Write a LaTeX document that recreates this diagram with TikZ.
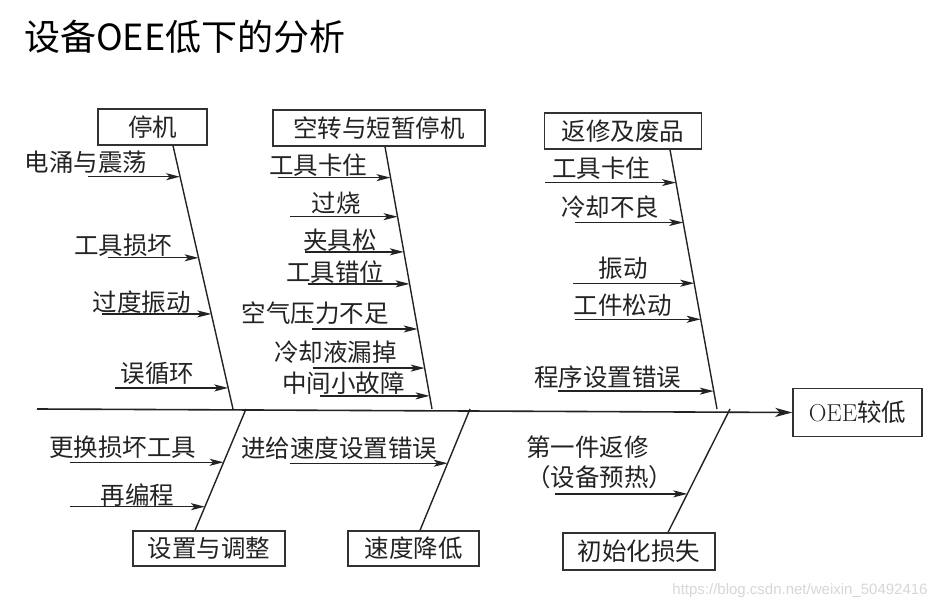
\documentclass[tikz,border=0pt]{standalone}
\usepackage{fontspec}
\usepackage{xcolor}
\usepackage{tikz}
\usetikzlibrary{arrows.meta,calc}
\newfontfamily\cjk{Noto Sans CJK SC}
\newfontfamily\wmfont{Liberation Sans}
\definecolor{inkc}{RGB}{35,35,35}
\definecolor{boxc}{RGB}{50,50,50}
\definecolor{wmc}{RGB}{215,215,215}
\tikzset{
  cat/.style    = {draw=boxc, line width=1.3pt, minimum height=36pt, inner sep=0pt,
                   font=\cjk\fontsize{24.5}{27}\selectfont, text=inkc},
  cause/.style  = {font=\cjk\fontsize{24.5}{30}\selectfont, text=inkc, inner sep=0pt, align=left},
  bone/.style   = {draw=inkc, line width=1.4pt},
  sub/.style    = {-{Stealth[length=14pt,width=7pt,inset=3.5pt]}, draw=inkc, line width=1.3pt},
  spine/.style  = {-{Stealth[length=17pt,width=9pt,inset=4.5pt]}, draw=inkc, line width=1.6pt},
}

\begin{document}
\begin{tikzpicture}[x=1pt,y=-1pt]
\useasboundingbox[fill=white] (0,0) rectangle (945,609);

\node[font=\cjk\fontsize{36}{40}\selectfont, text=black, anchor=west, inner sep=0pt] (title)
  at (24,37) {设备OEE低下的分析};

% spine and effect
\node[cat, minimum width=129pt, minimum height=48pt] (oee) at (857.5,412.5) {{\rmfamily OEE}较低};
\coordinate (tail) at (37,409);
\draw[spine] (tail) -- (oee.west);
\coordinate (j1) at (233,409);
\coordinate (j2) at (432,409);
\coordinate (j3) at (717,409);
\coordinate (k1) at (246,409);
\coordinate (k2) at (470,409);
\coordinate (k3) at (730,409);

% top categories
\node[cat, minimum width=109pt] (stop) at (152.5,127) {停机};
\node[cat, minimum width=212pt] (idle) at (379,128) {空转与短暂停机};
\node[cat, minimum width=157pt] (scrap) at (623,131) {返修及废品};

% bottom categories
\node[cat, minimum width=152pt, minimum height=35pt] (setup) at (209,548.5) {设置与调整};
\node[cat, minimum width=131pt, minimum height=35pt] (speed) at (413.5,548.5) {速度降低};
\node[cat, minimum width=152pt, minimum height=37pt] (start) at (639,551.5) {初始化损失};

% bones
\draw[bone] ([xshift=20.5]stop.south) -- (j1)
  coordinate[pos=.118] (t1a) coordinate[pos=.426] (t1b)
  coordinate[pos=.639] (t1c) coordinate[pos=.920] (t1d);
\draw[bone] ([xshift=6]idle.south) -- (j2)
  coordinate[pos=.118] (t2a) coordinate[pos=.267] (t2b) coordinate[pos=.401] (t2c)
  coordinate[pos=.523] (t2d) coordinate[pos=.695] (t2e) coordinate[pos=.844] (t2f)
  coordinate[pos=.950] (t2g);
\draw[bone] ([xshift=47]scrap.south) -- (j3)
  coordinate[pos=.127] (t3a) coordinate[pos=.281] (t3b) coordinate[pos=.515] (t3c)
  coordinate[pos=.654] (t3d) coordinate[pos=.931] (t3e);
\draw[bone] (k1) -- ([xshift=-14]setup.north)
  coordinate[pos=.439] (b1a) coordinate[pos=.805] (b1b);
\draw[bone] (k2) -- ([xshift=6.5]speed.north)
  coordinate[pos=.447] (b2a);
\draw[bone] (k3) -- ([xshift=29]start.north)
  coordinate[pos=.688] (b3a);

% causes: 停机
\node[cause] (surge) at (86,162) {电涌与震荡};
\draw[sub] ([xshift=-92]t1a) -- (t1a);
\node[cause] (tbrk) at (123,245) {工具损坏};
\draw[sub] ([xshift=-91]t1b) -- (t1b);
\node[cause] (vib1) at (141.5,302) {过度振动};
\draw[sub] ([xshift=-109]t1c) -- (t1c);
\node[cause] (loop) at (157.5,373) {误循环};
\draw[sub] ([xshift=-113]t1d) -- (t1d);

% causes: 空转与短暂停机
\node[cause] (jam2) at (318,165) {工具卡住};
\draw[sub] ([xshift=-113]t2a) -- (t2a);
\node[cause] (burn) at (336,203) {过烧};
\draw[sub] ([xshift=-108]t2b) -- (t2b);
\node[cause] (clamp) at (340,240) {夹具松};
\draw[sub] ([xshift=-99]t2c) -- (t2c);
\node[cause] (misal) at (335,272) {工具错位};
\draw[sub] ([xshift=-102]t2d) -- (t2d);
\node[cause] (air) at (315,313) {空气压力不足};
\draw[sub] ([xshift=-106]t2e) -- (t2e);
\node[cause] (leak) at (335.5,352) {冷却液漏掉};
\draw[sub] ([xshift=-112]t2f) -- (t2f);
\node[cause] (minor) at (343.5,383) {中间小故障};
\draw[sub] ([xshift=-110]t2g) -- (t2g);

% causes: 返修及废品
\node[cause] (jam3) at (601,168) {工具卡住};
\draw[sub] ([xshift=-131]t3a) -- (t3a);
\node[cause] (cool) at (610,207) {冷却不良};
\draw[sub] ([xshift=-108]t3b) -- (t3b);
\node[cause] (vib3) at (623,268) {振动};
\draw[sub] ([xshift=-121]t3c) -- (t3c);
\node[cause] (loose) at (622.5,305) {工件松动};
\draw[sub] ([xshift=-126]t3d) -- (t3d);
\node[cause] (prog) at (607.5,377) {程序设置错误};
\draw[sub] ([xshift=-156]t3e) -- (t3e);

% causes: bottom
\node[cause] (chg) at (122.5,447) {更换损坏工具};
\draw[sub] ([xshift=-154]b1a) -- (b1a);
\node[cause] (reprog) at (137.5,495) {再编程};
\draw[sub] ([xshift=-135]b1b) -- (b1b);
\node[cause] (feed) at (339,448) {进给速度设置错误};
\draw[sub] ([xshift=-158]b2a) -- (b2a);
\node[cause, anchor=west] (first) at (526,462) {第一件返修\\（设备预热）};
\draw[sub] ([xshift=-132]b3a) -- (b3a);

\node[font=\wmfont\fontsize{15}{16}\selectfont, text=wmc, inner sep=0pt] (wm)
  at (800,591) {https://blog.csdn.net/weixin\_50492416};

\end{tikzpicture}
\end{document}
